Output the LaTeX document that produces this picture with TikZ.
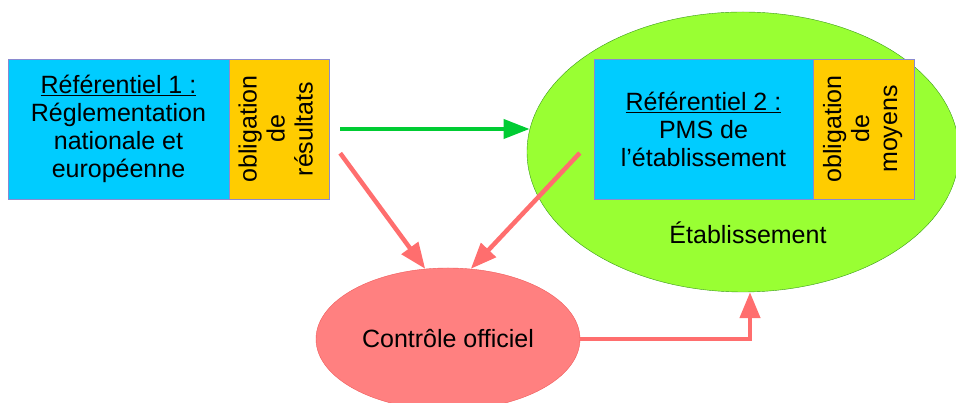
\documentclass[tikz,border=0pt]{standalone}
\usepackage{xcolor}
\usepackage{fontspec}
\setmainfont{Liberation Sans}
\usepackage{tikz}
\usetikzlibrary{arrows.meta,shapes.geometric}
\definecolor{ciel}{HTML}{00CCFF}
\definecolor{jaune}{HTML}{FFCC00}
\definecolor{cadre}{HTML}{8A8AD0}
\definecolor{vertclair}{HTML}{99FF33}
\definecolor{vertbord}{HTML}{3A9A1A}
\definecolor{vertfleche}{HTML}{00CC33}
\definecolor{rosefond}{HTML}{FF8080}
\definecolor{rosebord}{HTML}{F05A5A}
\definecolor{rougefleche}{HTML}{FF6E6E}

\begin{document}
\begin{tikzpicture}[x=1pt,y=1pt,
  every node/.style={font=\fontsize{25}{28}\selectfont},
  ref box/.style={rectangle,draw=cadre,fill=ciel,minimum width=221pt,minimum height=140pt,inner sep=0pt,align=center},
  oblig box/.style={rectangle,draw=cadre,fill=jaune,minimum width=100pt,minimum height=140pt,inner sep=0pt},
  oval node/.style={ellipse,inner sep=0pt},
  red arrow/.style={draw=rougefleche,line width=4.5pt,-{Triangle[length=26pt,width=20pt]}},
  green arrow/.style={draw=vertfleche,line width=4pt,-{Triangle[length=26pt,width=19pt]}}]

\useasboundingbox (0,0) rectangle (956,403);
\clip (0,0) rectangle (956,403);

\node[ref box] (ref1) at (118.5,274) {\underline{Référentiel 1 :}\\Réglementation\\nationale et\\européenne};
\node[oblig box] (oblig1) at (279,274) {\rotatebox{90}{\begin{tabular}{@{}c@{}}obligation\\de\\résultats\end{tabular}}};

\node[oval node,draw=vertbord,fill=vertclair,minimum width=432pt,minimum height=280pt] (etab) at (743,251) {};
\node (etabtxt) at (748,170) {Établissement};
\node[ref box,minimum width=219pt] (ref2) at (703.5,274) {\underline{Référentiel 2 :}\\PMS de\\l’établissement};
\node[oblig box,minimum width=101pt] (oblig2) at (863.5,274) {\rotatebox{90}{\begin{tabular}{@{}c@{}}obligation\\de\\moyens\end{tabular}}};

\node[oval node,draw=rosebord,fill=rosefond,minimum width=264pt,minimum height=142pt] (controle) at (448,64) {Contrôle officiel};

\draw[green arrow] ([xshift=11pt]oblig1.east) -- (oblig1.east -| etab.174);
\draw[red arrow] ([shift={(11,46)}]oblig1.south east) -- (controle.108);
\draw[red arrow] ([shift={(-14,-24)}]ref2.west) -- (controle.72);
\draw[red arrow] (controle.east) -| ([xshift=7pt]etab.south);

\end{tikzpicture}
\end{document}
